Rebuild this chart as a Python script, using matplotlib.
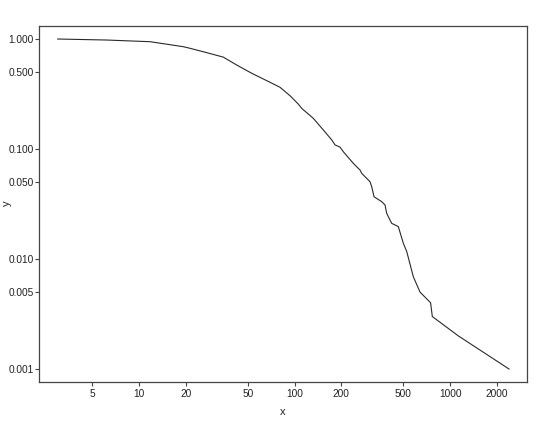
import matplotlib
matplotlib.use("Agg")
import matplotlib.pyplot as plt
from matplotlib.ticker import FixedLocator, FixedFormatter, NullLocator

# Values (CCDF-like curve on log-log axes)
x_vals = [3.0, 6.2, 11.8, 19.3, 21.3, 27.3, 34.8, 42.5, 53.1, 66.3,
          80.7, 93.6, 105.8, 111.3, 132.1, 153.2, 173.5, 182.2, 196.2,
          206.0, 238.8, 263.8, 270.5, 305.9, 313.6, 324.7, 363.8, 381.9,
          391.6, 411.3, 421.7, 465.1, 500.9, 526.7, 580.7, 641.6, 750.0,
          769.4, 1131.0, 2395.0]
y_vals = [1.0, 0.979, 0.945, 0.851, 0.823, 0.751, 0.685, 0.580, 0.488,
          0.418, 0.364, 0.305, 0.256, 0.234, 0.190, 0.149, 0.121, 0.109,
          0.104, 0.0945, 0.0741, 0.0644, 0.0601, 0.0504, 0.0454, 0.0368,
          0.0332, 0.031, 0.026, 0.0226, 0.0211, 0.0197, 0.0139, 0.0117,
          0.0069, 0.005, 0.004, 0.003, 0.002, 0.001]

x_ticks = [5, 10, 20, 50, 100, 200, 500, 1000, 2000]
x_tick_labels = ["5", "10", "20", "50", "100", "200", "500", "1000", "2000"]
y_ticks = [0.001, 0.005, 0.010, 0.050, 0.100, 0.500, 1.000]
y_tick_labels = ["0.001", "0.005", "0.010", "0.050", "0.100", "0.500", "1.000"]

plt.rcParams['font.family'] = ['Liberation Sans', 'DejaVu Sans']

W, H = 540, 422
fig = plt.figure(figsize=(W / 100, H / 100), dpi=100)
left, right, top, bottom = 39, 527, 26, 382
ax = fig.add_axes([left / W, (H - bottom) / H, (right - left) / W, (bottom - top) / H])

ax.plot(x_vals, y_vals, color='#2a2a2a', linewidth=0.8)
ax.set_xscale('log')
ax.set_yscale('log')
ax.set_xlim(2.275, 3126)
ax.set_ylim(0.000762, 1.313)

ax.xaxis.set_major_locator(FixedLocator(x_ticks))
ax.xaxis.set_major_formatter(FixedFormatter(x_tick_labels))
ax.xaxis.set_minor_locator(NullLocator())
ax.yaxis.set_major_locator(FixedLocator(y_ticks))
ax.yaxis.set_major_formatter(FixedFormatter(y_tick_labels))
ax.yaxis.set_minor_locator(NullLocator())

for s in ax.spines.values():
    s.set_color('#444444')
    s.set_linewidth(0.9)

ax.tick_params(axis='both', direction='out', length=3, width=0.8,
               color='#444444', labelsize=7.3, labelcolor='#222222')
ax.tick_params(axis='x', pad=2)
ax.tick_params(axis='y', pad=0.6)

fig.text((left + right) / 2 / W, 1 - 412 / H, 'x', ha='center', va='center',
         fontsize=8, color='#222222')
fig.text(7 / W, 1 - 203 / H, 'y', ha='center', va='center', rotation=90,
         fontsize=8, color='#222222')

fig.savefig('out.png', dpi=100, facecolor='white')
